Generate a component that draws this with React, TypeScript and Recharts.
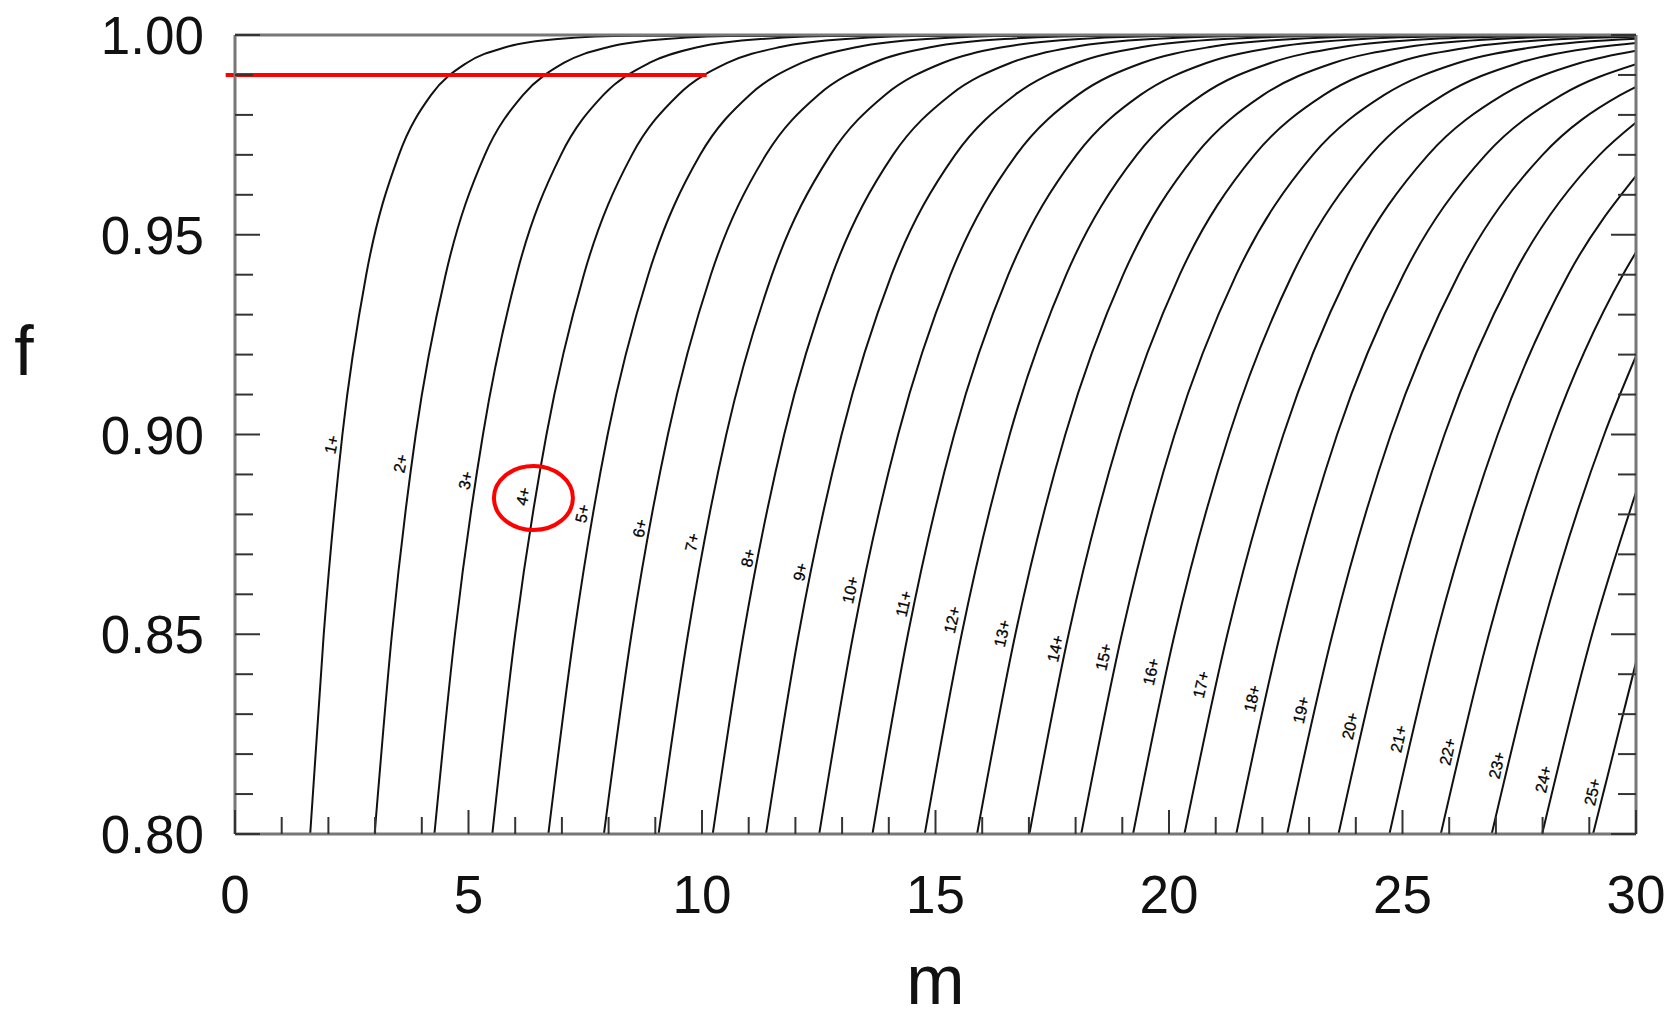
import { LineChart, Line, XAxis, YAxis, ReferenceLine, ReferenceDot } from 'recharts';

const fLevels = [0.8, 0.85, 0.9, 0.94, 0.97, 0.985, 0.993, 0.997, 0.999, 0.9998];

const m1 = [1.61, 1.9, 2.3, 2.81, 3.51, 4.2, 4.96, 5.81, 6.91, 8.52];
const m2 = [2.99, 3.36, 3.87, 4.51, 5.35, 6.17, 7.04, 8.0, 9.23, 11.0];
const m3 = [4.27, 4.71, 5.31, 6.03, 6.98, 7.89, 8.87, 9.93, 11.26, 13.17];
const m4 = [5.51, 6.0, 6.67, 7.47, 8.5, 9.49, 10.54, 11.68, 13.08, 15.09];
const m5 = [6.71, 7.26, 7.98, 8.85, 9.96, 11.02, 12.13, 13.33, 14.81, 16.92];
const m6 = [7.9, 8.49, 9.27, 10.19, 11.37, 12.49, 13.66, 14.92, 16.47, 18.67];
const m7 = [9.07, 9.7, 10.52, 11.5, 12.75, 13.92, 15.15, 16.46, 18.08, 20.36];
const m8 = [10.23, 10.89, 11.76, 12.79, 14.09, 15.32, 16.6, 17.96, 19.64, 22.0];
const m9 = [11.37, 12.07, 12.99, 14.06, 15.42, 16.7, 18.02, 19.43, 21.17, 23.6];
const m10 = [12.51, 13.24, 14.2, 15.32, 16.73, 18.05, 19.42, 20.88, 22.67, 25.17];
const m11 = [13.65, 14.41, 15.4, 16.56, 18.02, 19.39, 20.8, 22.3, 24.14, 26.7];
const m12 = [14.77, 15.56, 16.59, 17.8, 19.31, 20.71, 22.17, 23.71, 25.6, 28.22];
const m13 = [15.89, 16.71, 17.78, 19.02, 20.57, 22.02, 23.52, 25.1, 27.03, 29.71];
const m14 = [17.01, 17.85, 18.95, 20.23, 21.83, 23.32, 24.86, 26.48, 28.45];
const m15 = [18.12, 18.99, 20.12, 21.44, 23.08, 24.61, 26.18, 27.84];
const m16 = [19.23, 20.12, 21.29, 22.64, 24.32, 25.88, 27.49, 29.19];
const m17 = [20.33, 21.25, 22.45, 23.83, 25.55, 27.15, 28.8];
const m18 = [21.44, 22.38, 23.6, 25.02, 26.78, 28.41];
const m19 = [22.53, 23.5, 24.75, 26.2, 28.0, 29.67];
const m20 = [23.63, 24.62, 25.9, 27.38, 29.22];
const m21 = [24.72, 25.73, 27.04, 28.55];
const m22 = [25.82, 26.85, 28.18, 29.72];
const m23 = [26.91, 27.96, 29.32];
const m24 = [27.99, 29.06];
const m25 = [29.08];

const curveM = [m1, m2, m3, m4, m5, m6, m7, m8, m9, m10, m11, m12, m13,
  m14, m15, m16, m17, m18, m19, m20, m21, m22, m23, m24, m25];

// value of each curve where it meets the right edge, m = 30
const endF = [1, 1, 1, 1, 1, 1, 1, 1, 1, 1, 1, 1, 0.99982, 0.99957, 0.99905,
  0.99802, 0.99608, 0.99268, 0.98703, 0.9781, 0.96471, 0.94562, 0.9196, 0.88551, 0.8429];

const curveNames = ['1+', '2+', '3+', '4+', '5+', '6+', '7+', '8+', '9+', '10+', '11+', '12+',
  '13+', '14+', '15+', '16+', '17+', '18+', '19+', '20+', '21+', '22+', '23+', '24+', '25+'];

// label centres
const labelM = [2.07, 3.55, 4.94, 6.17, 7.44, 8.67, 9.79, 10.99, 12.11, 13.18, 14.32, 15.36,
  16.43, 17.57, 18.6, 19.62, 20.69, 21.78, 22.83, 23.88, 24.92, 25.97, 27.02, 28.02, 29.07];
const labelF = [0.8975, 0.8927, 0.8885, 0.8845, 0.8802, 0.8765, 0.873, 0.8691, 0.8656, 0.8611,
  0.8576, 0.8536, 0.8502, 0.8464, 0.8443, 0.8406, 0.8374, 0.8339, 0.831, 0.827, 0.8238,
  0.8206, 0.8172, 0.8137, 0.8105];

const xTicks = [0, 1, 2, 3, 4, 5, 6, 7, 8, 9, 10, 11, 12, 13, 14, 15, 16, 17, 18, 19, 20,
  21, 22, 23, 24, 25, 26, 27, 28, 29, 30];
const yTicks = [0.8, 0.81, 0.82, 0.83, 0.84, 0.85, 0.86, 0.87, 0.88, 0.89, 0.9, 0.91, 0.92,
  0.93, 0.94, 0.95, 0.96, 0.97, 0.98, 0.99, 1.0];

// highlighted threshold and the circled label
const markLineF = 0.99;
const markLineM = [-0.2, 10.1];
const circleAt = { m: 6.39, f: 0.8841 };

const series = curveM.map((ms, i) => [
  ...ms.map((m, k) => ({ m, f: fLevels[k] })),
  { m: 30, f: endF[i] },
]);

const FONT = '"Liberation Sans", Arial, Helvetica, sans-serif';
const TICK = '#333';

const isMajorY = (v: number) => Math.abs(v * 20 - Math.round(v * 20)) < 1e-6;

const BottomTick = ({ x, y, payload }: any) => {
  const major = payload.value % 5 === 0;
  return (
    <g>
      <line x1={x} x2={x} y1={y} y2={y - (major ? 24 : 17)} stroke={TICK} strokeWidth={2} />
      {major && (
        <text x={x} y={y + 79} textAnchor="middle" fontSize={53} fill="#111" fontFamily={FONT}>
          {payload.value}
        </text>
      )}
    </g>
  );
};

const TopTick = ({ x, y, payload }: any) => {
  const major = payload.value % 5 === 0;
  return <line x1={x} x2={x} y1={y} y2={y + (major ? 24 : 17)} stroke={TICK} strokeWidth={2} />;
};

const LeftTick = ({ x, y, payload }: any) => {
  const major = isMajorY(payload.value);
  return (
    <g>
      <line x1={x} x2={x + (major ? 25 : 18)} y1={y} y2={y} stroke={TICK} strokeWidth={2} />
      {major && (
        <text x={x - 31} y={y + 19} textAnchor="end" fontSize={53} fill="#111" fontFamily={FONT}>
          {payload.value.toFixed(2)}
        </text>
      )}
    </g>
  );
};

const RightTick = ({ x, y, payload }: any) => {
  const major = isMajorY(payload.value);
  return <line x1={x} x2={x - (major ? 25 : 18)} y1={y} y2={y} stroke={TICK} strokeWidth={2} />;
};

const frame = { stroke: '#777', strokeWidth: 3 };

export default function App() {
  return (
    <div style={{ position: 'absolute', left: 0, top: 0, width: 1667, height: 1019, background: '#fff' }}>
      <LineChart
        width={1667}
        height={1019}
        margin={{ top: 15, right: 11, bottom: 125, left: 175 }}
        style={{ fontFamily: FONT }}
      >
        <XAxis
          dataKey="m"
          type="number"
          domain={[0, 30]}
          allowDataOverflow
          ticks={xTicks}
          interval={0}
          tickSize={0}
          tickMargin={0}
          tickLine={false}
          axisLine={frame}
          height={60}
          tick={BottomTick}
          label={{
            content: ({ viewBox }: any) => (
              <text x={viewBox.x + viewBox.width / 2} y={viewBox.y + 170} textAnchor="middle"
                fontSize={70} fill="#111" fontFamily={FONT}>m</text>
            ),
          }}
        />
        <XAxis
          xAxisId="top"
          orientation="top"
          type="number"
          domain={[0, 30]}
          allowDataOverflow
          ticks={xTicks}
          interval={0}
          tickSize={0}
          tickMargin={0}
          tickLine={false}
          axisLine={frame}
          height={20}
          tick={TopTick}
        />
        <YAxis
          type="number"
          domain={[0.8, 1.0]}
          allowDataOverflow
          ticks={yTicks}
          interval={0}
          tickSize={0}
          tickMargin={0}
          tickLine={false}
          axisLine={frame}
          width={60}
          tick={LeftTick}
          label={{
            content: ({ viewBox }: any) => (
              <text x={viewBox.x - 151} y={viewBox.y + 340} textAnchor="middle"
                fontSize={70} fill="#111" fontFamily={FONT}>f</text>
            ),
          }}
        />
        <YAxis
          yAxisId="right"
          orientation="right"
          type="number"
          domain={[0.8, 1.0]}
          allowDataOverflow
          ticks={yTicks}
          interval={0}
          tickSize={0}
          tickMargin={0}
          tickLine={false}
          axisLine={frame}
          width={20}
          tick={RightTick}
        />
        {series.map((pts, i) => (
          <Line
            key={curveNames[i]}
            data={pts}
            dataKey="f"
            type="monotone"
            stroke="#111"
            strokeWidth={2}
            dot={false}
            activeDot={false}
            isAnimationActive={false}
          />
        ))}
        {curveNames.map((name, i) => (
          <ReferenceDot
            key={'lbl' + name}
            x={labelM[i]}
            y={labelF[i]}
            shape={(p: any) => (
              <text
                x={p.cx}
                y={p.cy}
                transform={`rotate(-77 ${p.cx} ${p.cy})`}
                textAnchor="middle"
                dominantBaseline="central"
                fontSize={16}
                fill="#000"
                stroke="#000"
                strokeWidth={0.3}
                fontFamily={FONT}
              >
                {name}
              </text>
            )}
          />
        ))}
        <ReferenceLine
          segment={[
            { x: markLineM[0], y: markLineF },
            { x: markLineM[1], y: markLineF },
          ]}
          stroke="#f00"
          strokeWidth={4}
          ifOverflow="visible"
        />
        <ReferenceDot
          x={circleAt.m}
          y={circleAt.f}
          shape={(p: any) => (
            <ellipse cx={p.cx} cy={p.cy} rx={39.5} ry={32} fill="none" stroke="#f00" strokeWidth={4} />
          )}
        />
      </LineChart>
    </div>
  );
}
